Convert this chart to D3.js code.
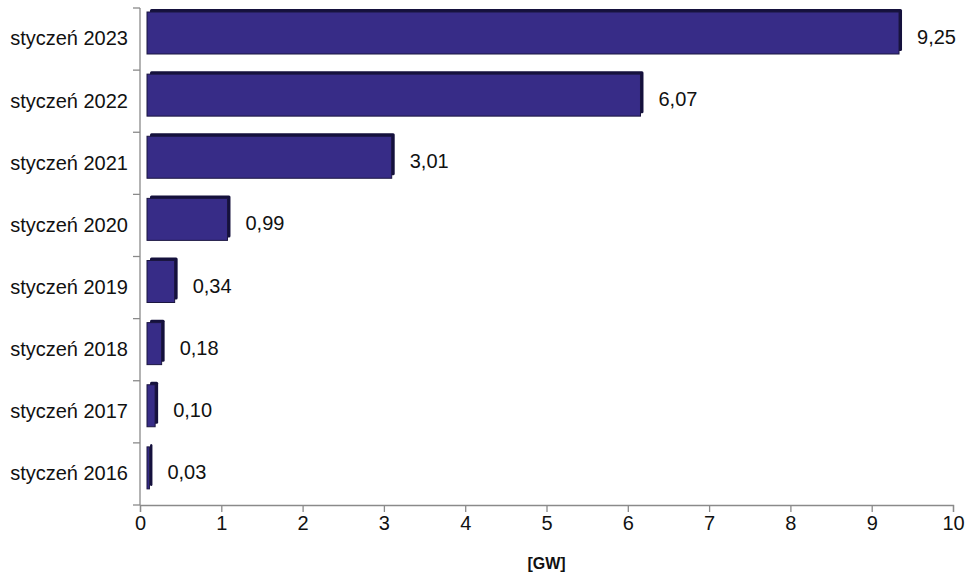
<!DOCTYPE html>
<html>
<head>
<meta charset="utf-8">
<script src="https://cdn.jsdelivr.net/npm/d3@7"></script>
<style>
  body { margin: 0; background: #fff; }
  svg text { font-family: "Liberation Sans", Arial, sans-serif; }
</style>
</head>
<body>
<svg id="chart"></svg>
<script>
// data
var categories = ["styczeń 2023", "styczeń 2022", "styczeń 2021", "styczeń 2020",
                  "styczeń 2019", "styczeń 2018", "styczeń 2017", "styczeń 2016"];
var values = [9.25, 6.07, 3.01, 0.99, 0.34, 0.18, 0.10, 0.03];
var xTicks = [0, 1, 2, 3, 4, 5, 6, 7, 8, 9, 10];
var axisTitle = "[GW]";

var W = 970, H = 581;
var margin = {top: 8, right: 17, bottom: 76, left: 140};
var width = W - margin.left - margin.right,
    height = H - margin.top - margin.bottom;

var svg = d3.select("#chart").attr("width", W).attr("height", H)
    .append("g")
    .attr("transform", "translate(" + margin.left + "," + margin.top + ")");

var x = d3.scaleLinear().domain([0, 10]).range([0, width]);
var y = d3.scaleBand().domain(categories).range([0, height]);

var depth = 3, shiftX = 7;
var fields = categories.map(function (c, i) { return {cat: c, value: values[i]}; });

// back (3D depth) face
svg.selectAll(".bar-back")
    .data(fields)
    .enter().append("rect")
    .attr("class", "bar-back")
    .attr("x", function (d) { return x(0) + shiftX + depth; })
    .attr("y", function (d) { return y(d.cat) + 4 - depth; })
    .attr("width", function (d) { return Math.max(x(d.value) - x(0), 2); })
    .attr("height", 42)
    .attr("rx", 1.5)
    .style("fill", "#15113d");

// front face
svg.selectAll(".bar")
    .data(fields)
    .enter().append("rect")
    .attr("class", "bar")
    .attr("x", function (d) { return x(0) + shiftX; })
    .attr("y", function (d) { return y(d.cat) + 4; })
    .attr("width", function (d) { return Math.max(x(d.value) - x(0), 2); })
    .attr("height", 42)
    .style("fill", "#372c87")
    .style("stroke", "#1b1640")
    .style("stroke-width", 1);

// value labels
svg.selectAll(".bar-label")
    .data(fields)
    .enter().append("text")
    .attr("class", "bar-label")
    .attr("x", function (d) { return x(d.value) + shiftX + depth + 15; })
    .attr("y", function (d) { return y(d.cat) + y.bandwidth() / 2 - 2; })
    .attr("dy", "0.35em")
    .style("font-size", "20px")
    .style("fill", "#111")
    .text(function (d) { return d.value.toFixed(2).replace(".", ","); });

// x axis
var gx = svg.append("g")
    .attr("transform", "translate(0," + height + ")")
    .call(d3.axisBottom(x).tickValues(xTicks).tickSize(7).tickSizeOuter(7).tickPadding(4));
gx.selectAll("path, line").attr("stroke", "#8a8a8a").attr("stroke-width", 1.3);
gx.selectAll("text").style("font-size", "20px").style("fill", "#111")
    .style("font-family", "Liberation Sans, Arial, sans-serif");

// y axis
var gy = svg.append("g")
    .call(d3.axisLeft(y).tickSize(0).tickPadding(12));
gy.selectAll("path").attr("stroke", "#8a8a8a").attr("stroke-width", 1.3)
    .attr("d", "M0,0V" + height);
gy.selectAll("text").style("font-size", "20px").style("fill", "#111")
    .style("font-family", "Liberation Sans, Arial, sans-serif");

// category separator ticks
svg.selectAll(".ytick")
    .data(d3.range(categories.length + 1))
    .enter().append("line")
    .attr("x1", -7).attr("x2", 0)
    .attr("y1", function (i) { return i * y.step(); })
    .attr("y2", function (i) { return i * y.step(); })
    .attr("stroke", "#8a8a8a").attr("stroke-width", 1.3);

// axis title
svg.append("text")
    .attr("x", x(5))
    .attr("y", height + 64)
    .attr("text-anchor", "middle")
    .style("font-size", "16px")
    .style("font-weight", "bold")
    .style("fill", "#111")
    .text(axisTitle);
</script>
</body>
</html>
